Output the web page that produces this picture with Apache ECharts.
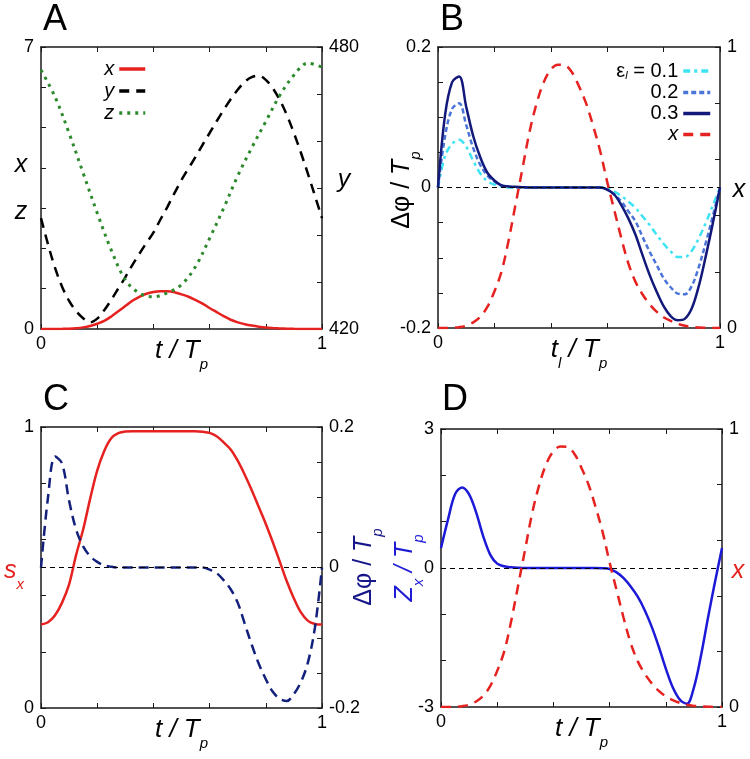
<!DOCTYPE html>
<html style="height: 100%">
<head>
<meta charset="utf-8">
<title>Phase response panels</title>
</head>
<body style="height: 100%; margin: 0; background: #fff">
<div id="container" style="width: 750px; height: 759px"></div>
<script src="https://cdn.jsdelivr.net/npm/echarts@6/dist/echarts.min.js"></script>
<script>
// time as fraction of the period
var tFine = [0, 0.025, 0.05, 0.075, 0.1, 0.125, 0.15, 0.175, 0.2, 0.225, 0.25, 0.275, 0.3, 0.325, 0.35,
    0.375, 0.4, 0.425, 0.45, 0.475, 0.5, 0.525, 0.55, 0.575, 0.6, 0.625, 0.65, 0.675, 0.7, 0.725, 0.75,
    0.775, 0.8, 0.825, 0.85, 0.875, 0.9, 0.925, 0.95, 0.975, 1];
var tCoarse = [0, 0.05, 0.1, 0.15, 0.2, 0.25, 0.3, 0.35, 0.4, 0.45, 0.5, 0.55, 0.6, 0.65, 0.7, 0.75,
    0.8, 0.85, 0.9, 0.95, 1];

// panel A (x and y use tFine, z uses tCoarse)
var xVals = [0, 0, 0.001, 0.003, 0.008, 0.02, 0.04, 0.075, 0.13, 0.2, 0.31, 0.44, 0.57, 0.7, 0.8, 0.875,
    0.92, 0.937, 0.935, 0.91, 0.86, 0.8, 0.72, 0.63, 0.52, 0.42, 0.32, 0.23, 0.165, 0.12, 0.085, 0.058,
    0.038, 0.025, 0.015, 0.008, 0.004, 0.002, 0.001, 0, 0];
var yVals = [443.6, 438, 433, 429, 426, 423.8, 422.3, 421.4, 422.2, 424, 426.2, 428.6, 431, 433.6, 436,
    438.3, 440.5, 443.3, 446, 448.9, 451.7, 454.2, 456.6, 459.2, 461.7, 464.2, 466.6, 468.9, 470.9,
    472.6, 473.6, 473.9, 473, 471.2, 468.7, 465.5, 461.7, 457.5, 453, 448.3, 443.6];
var zVals = [6.43, 5.76, 4.86, 3.87, 2.88, 1.96, 1.22, 0.89, 0.8, 0.9, 1.1, 1.55, 2.25, 3.0, 3.8, 4.5,
    5.15, 5.8, 6.3, 6.6, 6.5];

// panel B: phase shift for three pulse strengths
var eps1 = [0, 0.045, 0.062, 0.068, 0.058, 0.038, 0.02, 0.009, 0.004, 0.0015,
    0, 0, 0, 0, 0, 0, 0, 0, 0, 0, 0, 0, 0, 0,
    -0.001, -0.006, -0.012, -0.02, -0.029, -0.041, -0.053, -0.067, -0.08, -0.091, -0.099, -0.099,
    -0.09, -0.072, -0.05, -0.025, 0];
var eps2 = [0, 0.073, 0.112, 0.12, 0.089, 0.056, 0.032, 0.017, 0.0085, 0.003,
    0.001, 0, 0, 0, 0, 0, 0, 0, 0, 0, 0, 0, 0, 0,
    -0.003, -0.01, -0.02, -0.034, -0.048, -0.07, -0.091, -0.11, -0.129, -0.142, -0.151, -0.152,
    -0.14, -0.113, -0.078, -0.04, 0];
var eps3 = [0, 0.103, 0.15, 0.158, 0.115, 0.073, 0.043, 0.021, 0.01, 0.003,
    0.0015, 0.001, 0.0005, 0, 0, 0, 0, 0, 0, 0, 0, 0, 0, 0,
    -0.003, -0.01, -0.025, -0.044, -0.067, -0.096, -0.124, -0.148, -0.169, -0.183, -0.189, -0.187,
    -0.172, -0.14, -0.097, -0.05, 0];

// panel C
var sxVals = [0.297, 0.305, 0.33, 0.375, 0.44, 0.545, 0.635, 0.745, 0.845, 0.915, 0.96, 0.978, 0.984,
    0.985, 0.985, 0.985, 0.985, 0.985, 0.985, 0.985, 0.985, 0.985, 0.985,
    0.983, 0.979, 0.967, 0.945, 0.92, 0.88, 0.83, 0.775, 0.715, 0.655, 0.59, 0.52, 0.45, 0.39, 0.34,
    0.31, 0.299, 0.297];
var dphiC = [0, 0.1, 0.158, 0.148, 0.095, 0.054, 0.03, 0.016, 0.008, 0.003,
    0.001, 0, 0, 0, 0, 0, 0, 0, 0, 0, 0, 0, 0, 0,
    -0.003, -0.008, -0.018, -0.031, -0.05, -0.08, -0.11, -0.137, -0.159, -0.177, -0.187, -0.19,
    -0.18, -0.163, -0.135, -0.085, 0];

// panel D
var zxVals = [0.43, 1.05, 1.59, 1.74, 1.59, 1.2, 0.69, 0.29, 0.094, 0.036,
    0.015, 0.005, 0, 0, 0, 0, 0, 0, 0, 0, 0, 0, 0, -0.005,
    -0.02, -0.094, -0.22, -0.4, -0.62, -0.91, -1.27, -1.7, -2.17, -2.58, -2.84, -2.93,
    -2.58, -1.9, -1.08, -0.3, 0.43];

var FONT = 'Liberation Sans';
var AXIS = '#1a1a1a';
var RED = '#e5221f';

function pairs(ts, vs) {
    return ts.map(function (t, i) { return [t, vs[i]]; });
}

function onlyLabels(list) {
    return function (v) {
        for (var i = 0; i < list.length; i++) {
            if (Math.abs(v - list[i]) < 1e-6) return String(list[i]);
        }
        return '';
    };
}

var subRich = {
    m: { fontSize: 26, fontStyle: 'italic', fontFamily: FONT, color: '#000', lineHeight: 30, verticalAlign: 'top' },
    s: { fontSize: 15, fontStyle: 'italic', fontFamily: FONT, color: '#000', lineHeight: 16, verticalAlign: 'top', padding: [19, 0, 0, 0] }
};

function xPair(g, name) {
    var line = { onZero: false, lineStyle: { color: AXIS, width: 1.5 } };
    var tick = { inside: true, length: 5, lineStyle: { color: AXIS, width: 1 } };
    return [{
        gridIndex: g, type: 'value', position: 'bottom', min: 0, max: 1, interval: 0.2,
        axisLine: line, axisTick: tick, splitLine: { show: false },
        axisLabel: { formatter: onlyLabels([0, 1]), fontSize: 18, fontFamily: FONT, color: '#000', margin: 6 },
        name: name, nameLocation: 'middle', nameGap: 9, nameMoveOverlap: false,
        nameTextStyle: { rich: subRich }
    }, {
        gridIndex: g, type: 'value', position: 'top', min: 0, max: 1, interval: 0.2,
        axisLine: line, axisTick: tick, splitLine: { show: false }, axisLabel: { show: false }
    }];
}

function yAxisOf(g, pos, min, max, step, labels) {
    return {
        gridIndex: g, type: 'value', position: pos, min: min, max: max, interval: step,
        axisLine: { onZero: false, lineStyle: { color: AXIS, width: 1.5 } },
        axisTick: { inside: true, length: 5, lineStyle: { color: AXIS, width: 1 } },
        splitLine: { show: false },
        axisLabel: { formatter: onlyLabels(labels), fontSize: 18, fontFamily: FONT, color: '#000', margin: 7 }
    };
}

function curve(name, x, y, ts, vs, color, width, dash) {
    return {
        name: name, type: 'line', xAxisIndex: x, yAxisIndex: y, data: pairs(ts, vs),
        smooth: 0.35, symbol: 'none', silent: true,
        lineStyle: { color: color, width: width, type: dash || 'solid', cap: 'butt' },
        itemStyle: { color: color }
    };
}

var zeroLine = {
    silent: true, symbol: ['none', 'none'], label: { show: false },
    lineStyle: { color: '#000', type: [5, 4], width: 1 }, data: [{ yAxis: 0 }]
};

function txt(x, y, text, style, rot) {
    return {
        type: 'text', x: x, y: y, rotation: rot || 0, silent: true,
        style: Object.assign({ text: text, align: 'center', verticalAlign: 'middle', fontFamily: FONT, fill: '#000' }, style)
    };
}

function titleRich(color) {
    return {
        m: { fontSize: 25, fontFamily: FONT, fill: color, lineHeight: 28, verticalAlign: 'top' },
        i: { fontSize: 25, fontStyle: 'italic', fontFamily: FONT, fill: color, lineHeight: 28, verticalAlign: 'top' },
        s: { fontSize: 15, fontStyle: 'italic', fontFamily: FONT, fill: color, lineHeight: 16, verticalAlign: 'top', padding: [18, 0, 0, 0] }
    };
}

var xA = xPair(0, '{m|t / T}{s|p}');
var xB = xPair(1, '{m|t}{s|l}{m| / T}{s|p}');
var xC = xPair(2, '{m|t / T}{s|p}');
var xD = xPair(3, '{m|t / T}{s|p}');

var sA = curve('A:x', 0, 0, tFine, xVals, RED, 2.5);
var sAy = curve('A:y', 0, 1, tFine, yVals, '#000', 2.5, [10, 7]);
var sAz = curve('A:z', 0, 0, tCoarse, zVals, '#2c8a2c', 3, [3, 5]);
var sB1 = curve('B:0.1', 2, 2, tFine, eps1, '#3fe3f2', 2.5, [7, 4, 3, 4]);
sB1.markLine = zeroLine;
var sB2 = curve('B:0.2', 2, 2, tFine, eps2, '#4b74d8', 2.5, [5, 3]);
var sB3 = curve('B:0.3', 2, 2, tFine, eps3, '#12197a', 2.5);
var sBx = curve('B:x', 2, 3, tFine, xVals, RED, 2.5, [10, 7]);
var sC = curve('C:s', 4, 4, tFine, sxVals, RED, 2.5);
var sCd = curve('C:d', 4, 5, tFine, dphiC, '#13207c', 2.5, [10, 6]);
sCd.markLine = zeroLine;
var sD = curve('D:z', 6, 6, tFine, zxVals, '#1c1ad6', 2.5);
sD.markLine = zeroLine;
var sDx = curve('D:x', 6, 7, tFine, xVals, RED, 2.5, [10, 7]);

var legendText = { fontSize: 20, fontFamily: FONT, color: '#000' };

var option = {
    animation: false,
    backgroundColor: '#fff',
    grid: [
        { left: 41, top: 47, width: 281, height: 282, outerBoundsMode: 'none' },
        { left: 438, top: 47, width: 282, height: 281, outerBoundsMode: 'none' },
        { left: 41, top: 427, width: 281, height: 281, outerBoundsMode: 'none' },
        { left: 441, top: 429, width: 281, height: 278, outerBoundsMode: 'none' }
    ],
    xAxis: [].concat(xA, xB, xC, xD),
    yAxis: [
        yAxisOf(0, 'left', 0, 7, 1, [0, 7]),
        yAxisOf(0, 'right', 420, 480, 10, [420, 480]),
        yAxisOf(1, 'left', -0.2, 0.2, 0.05, [-0.2, 0, 0.2]),
        yAxisOf(1, 'right', 0, 1, 0.2, [0, 1]),
        yAxisOf(2, 'left', 0, 1, 0.2, [0, 1]),
        yAxisOf(2, 'right', -0.2, 0.2, 0.05, [-0.2, 0, 0.2]),
        yAxisOf(3, 'left', -3, 3, 1, [-3, 0, 3]),
        yAxisOf(3, 'right', 0, 1, 0.2, [0, 1])
    ],
    legend: [{
        data: ['A:x', 'A:y', 'A:z'], orient: 'vertical', align: 'right',
        right: 603, top: 59, padding: 0, itemGap: 2, itemWidth: 26, itemHeight: 12,
        selectedMode: false, itemStyle: { opacity: 0 }, lineStyle: { width: 3.5 },
        formatter: function (n) { return n.split(':')[1]; },
        textStyle: Object.assign({ fontStyle: 'italic' }, legendText)
    }, {
        data: ['B:0.1', 'B:0.2', 'B:0.3', 'B:x'], orient: 'vertical', align: 'right',
        right: 38, top: 61, padding: 0, itemGap: 1, itemWidth: 27, itemHeight: 12,
        selectedMode: false, itemStyle: { opacity: 0 }, lineStyle: { width: 3.5 },
        formatter: function (n) {
            var v = n.split(':')[1];
            if (v === '0.1') return '{n|ε}{l|l}{n| = 0.1}';
            if (v === 'x') return '{i|x}';
            return '{n|' + v + '}';
        },
        textStyle: Object.assign({
            rich: {
                n: Object.assign({ lineHeight: 21 }, legendText),
                i: Object.assign({ lineHeight: 21, fontStyle: 'italic' }, legendText),
                l: { fontSize: 11, fontStyle: 'italic', fontFamily: FONT, color: '#000', lineHeight: 10, verticalAlign: 'bottom' }
            }
        }, legendText)
    }],
    series: [sA, sAy, sAz, sB1, sB2, sB3, sBx, sC, sCd, sD, sDx],
    graphic: [
        txt(55, 20, 'A', { fontSize: 36 }),
        txt(452, 20, 'B', { fontSize: 36 }),
        txt(56, 400, 'C', { fontSize: 36 }),
        txt(455, 400, 'D', { fontSize: 36 }),
        txt(21, 165, 'x', { fontSize: 25, fontStyle: 'italic' }),
        txt(21, 212, 'z', { fontSize: 25, fontStyle: 'italic' }),
        txt(344, 180, 'y', { fontSize: 25, fontStyle: 'italic' }),
        txt(739, 190, 'x', { fontSize: 25, fontStyle: 'italic' }),
        txt(738, 571, 'x', { fontSize: 25, fontStyle: 'italic', fill: RED }),
        txt(14, 573, '{i|s}{s|x}', { rich: titleRich(RED) }),
        txt(404, 190, '{m|Δφ / }{i|T}{s|p}', { rich: titleRich('#000') }, Math.PI / 2),
        txt(366, 567, '{m|Δφ / }{i|T}{s|p}', { rich: titleRich('#16168a') }, Math.PI / 2),
        txt(407, 568, '{i|Z}{s|x}{i| / T}{s|p}', { rich: titleRich('#1c1ad6') }, Math.PI / 2)
    ]
};

var myChart = echarts.init(document.getElementById('container'));
myChart.setOption(option);
</script>
</body>
</html>
